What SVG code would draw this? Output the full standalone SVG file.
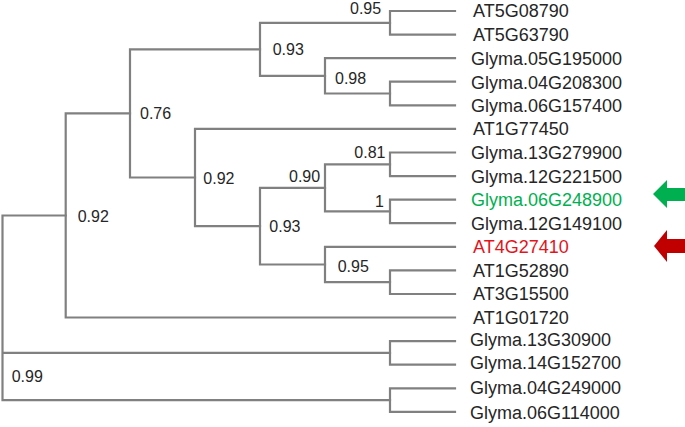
<svg xmlns="http://www.w3.org/2000/svg" width="685" height="427" viewBox="0 0 685 427">
<style>
.e{fill:none;stroke:#808080;stroke-width:2.2;stroke-linecap:square}
.lf{font-family:"Liberation Sans",Arial,sans-serif;font-size:18px;fill:#262626}
.nl{font-family:"Liberation Sans",Arial,sans-serif;font-size:16px;fill:#262626}
</style>
<rect width="685" height="427" fill="#ffffff"/>
<g id="connectors">
<path class="e" d="M390,11 V34.6 M390,11 H455 M390,34.6 H455"/>
<path class="e" d="M390,81.7 V105.3 M390,81.7 H455 M390,105.3 H455"/>
<path class="e" d="M325,58.2 V93.5 M325,58.2 H455 M325,93.5 H390"/>
<path class="e" d="M260,22.8 V75.9 M260,22.8 H390 M260,75.9 H325"/>
<path class="e" d="M390,152.5 V176.1 M390,152.5 H455 M390,176.1 H455"/>
<path class="e" d="M390,199.6 V223.2 M390,199.6 H455 M390,223.2 H455"/>
<path class="e" d="M325,164.3 V211.4 M325,164.3 H390 M325,211.4 H390"/>
<path class="e" d="M390,270.4 V294 M390,270.4 H455 M390,294 H455"/>
<path class="e" d="M325,246.8 V282.2 M325,246.8 H455 M325,282.2 H390"/>
<path class="e" d="M260,187.9 V264.5 M260,187.9 H325 M260,264.5 H325"/>
<path class="e" d="M195,128.9 V226.2 M195,128.9 H455 M195,226.2 H260"/>
<path class="e" d="M130,49.3 V177.5 M130,49.3 H260 M130,177.5 H195"/>
<path class="e" d="M65.7,113.4 V317.5 M65.7,113.4 H130 M65.7,317.5 H455"/>
<path class="e" d="M390,341.1 V364.7 M390,341.1 H455 M390,364.7 H455"/>
<path class="e" d="M390,388.3 V411.9 M390,388.3 H455 M390,411.9 H455"/>
<path class="e" d="M2.5,215.5 V400.1 M2.5,215.5 H65.7 M2.5,352.9 H390 M2.5,400.1 H390"/>
</g>
<g id="n_A"><text class="nl" x="350" y="14">0.95</text></g>
<g id="n_D"><text class="nl" x="272.7" y="55">0.93</text></g>
<g id="n_C"><text class="nl" x="335" y="84">0.98</text></g>
<g id="n_M"><text class="nl" x="140" y="119">0.76</text></g>
<g id="n_K"><text class="nl" x="203.3" y="184">0.92</text></g>
<g id="n_G"><text class="nl" x="289" y="181.5">0.90</text></g>
<g id="n_E"><text class="nl" x="354.3" y="158.3">0.81</text></g>
<g id="n_F"><text class="nl" x="375" y="206.7">1</text></g>
<g id="n_N"><text class="nl" x="77.7" y="221.7">0.92</text></g>
<g id="n_J"><text class="nl" x="269.3" y="232.3">0.93</text></g>
<g id="n_I"><text class="nl" x="337.7" y="272">0.95</text></g>
<g id="n_R"><text class="nl" x="11.7" y="382.3">0.99</text></g>
<g id="leaf1"><text class="lf" x="473" y="17">AT5G08790</text></g>
<g id="leaf2"><text class="lf" x="473" y="40.6">AT5G63790</text></g>
<g id="leaf3"><text class="lf" x="471" y="64.5">Glyma.05G195000</text></g>
<g id="leaf4"><text class="lf" x="471" y="88.5">Glyma.04G208300</text></g>
<g id="leaf5"><text class="lf" x="471" y="111.5">Glyma.06G157400</text></g>
<g id="leaf6"><text class="lf" x="473" y="134.5">AT1G77450</text></g>
<g id="leaf7"><text class="lf" x="471" y="159">Glyma.13G279900</text></g>
<g id="leaf8"><text class="lf" x="471" y="182.5">Glyma.12G221500</text></g>
<g id="leaf9"><text class="lf" x="471" y="206" fill="#00b050" style="fill:#00b050">Glyma.06G248900</text></g>
<g id="leaf10"><text class="lf" x="471" y="230">Glyma.12G149100</text></g>
<g id="leaf11"><text class="lf" x="473" y="252.5" style="fill:#e3141c">AT4G27410</text></g>
<g id="leaf12"><text class="lf" x="473" y="276.5">AT1G52890</text></g>
<g id="leaf13"><text class="lf" x="473" y="300">AT3G15500</text></g>
<g id="leaf14"><text class="lf" x="473" y="323.5">AT1G01720</text></g>
<g id="leaf15"><text class="lf" x="470" y="345.5">Glyma.13G30900</text></g>
<g id="leaf16"><text class="lf" x="470" y="369">Glyma.14G152700</text></g>
<g id="leaf17"><text class="lf" x="470" y="393.5">Glyma.04G249000</text></g>
<g id="leaf18"><text class="lf" x="470" y="419">Glyma.06G114000</text></g>
<g id="arrow_green"><polygon points="653,194 667,180 667,188 685,188 685,201 667,201 667,208" fill="#00b050"/></g>
<g id="arrow_red"><polygon points="654,246 667,230 667,239 685,239 685,253 667,253 667,262" fill="#c00000"/></g>
</svg>
